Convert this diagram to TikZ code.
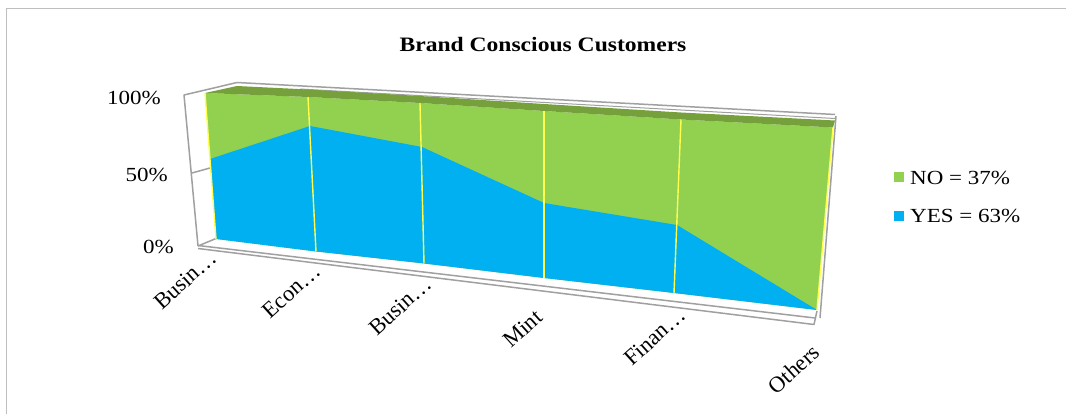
\documentclass[tikz,border=0pt]{standalone}
\usepackage{fontspec}
\setmainfont{Liberation Serif}
\definecolor{areagreen}{HTML}{92D050}
\definecolor{areablue}{HTML}{00B0F0}
\definecolor{topgreen}{HTML}{76A03C}
\definecolor{sepyellow}{HTML}{FFFF50}
\definecolor{framegray}{HTML}{A0A0A0}
\definecolor{bordergray}{HTML}{BEBEBE}
\begin{document}
\begin{tikzpicture}[x=1pt,y=-1pt,
  frameline/.style={draw=framegray, line width=1.5pt, line join=round},
  sepline/.style={draw=sepyellow, line width=1.4pt},
  txt/.style={font=\fontsize{20}{24}\selectfont, inner sep=0pt, xscale=1.15},
  cat/.style={font=\fontsize{22.5}{26}\selectfont, inner sep=0pt, rotate=42, anchor=north east},
  legsq/.style={minimum size=10pt, inner sep=0pt, draw=none}]
\useasboundingbox (0,0) rectangle (1066,414);
% outer border
\draw[draw=bordergray, line width=1.3pt] (6.7,414) -- (6.7,8.3) -- (1066,8.3);
% title
\node[txt, font=\fontsize{20.5}{24}\selectfont\bfseries] (title) at (543,45) {Brand Conscious Customers};
% back wall right edge (mostly hidden)
\draw[frameline] (836,116) -- (820,318);
% side wall and top frame
\draw[frameline] (192,173) -- (210,168);
\draw[frameline] (198,246) -- (184,95) -- (237,82.5) -- (835,114.5);
\draw[frameline, line width=1pt] (300,89) -- (835,118.5);
\draw[frameline] (198,246) -- (216,238.5);
% floor
\draw[frameline] (198,245.5) -- (815,318);
\draw[frameline] (198,248.5) -- (814,324.5) -- (817,311);
% front face: green (NO) then blue (YES)
\fill[areagreen] (205,93) -- (308,97) -- (420,103) -- (544,111) -- (681,119.5) -- (833,127.5)
  -- (817,310) -- (674,293) -- (544,278) -- (424,263.5) -- (316,251.5) -- (216,239) -- cycle;
\fill[areablue] (210,159) -- (310,126) -- (422,147) -- (544,203) -- (677,225) -- (817,310)
  -- (674,293) -- (544,278) -- (424,263.5) -- (316,251.5) -- (216,239) -- cycle;
% top face
\fill[topgreen] (205,93) -- (237,86) -- (308,89.5) -- (420,96) -- (544,104) -- (681,112.5) -- (835,120.5)
  -- (833,127.5) -- (681,119.5) -- (544,111) -- (420,103) -- (308,97) -- cycle;
% category separators
\draw[sepline] (205,93) -- (216,239);
\draw[sepline] (308,97) -- (316,251.5);
\draw[sepline] (420,103) -- (424,263.5);
\draw[sepline] (544,111) -- (544,278);
\draw[sepline] (681,119.5) -- (674,293);
\draw[sepline] (833,127.5) -- (817,310);
% value axis labels
\node[txt, anchor=east] (y100) at (161,98) {100\%};
\node[txt, anchor=east] (y50) at (168,175) {50\%};
\node[txt, anchor=east] (y0) at (174,247) {0\%};
% category labels
\node[cat] (c1) at (208,249) {Busin…};
\node[cat] (c2) at (312,262) {Econ…};
\node[cat] (c3) at (423,275) {Busin…};
\node[cat] (c4) at (534,308) {Mint};
\node[cat] (c5) at (677,306) {Finan…};
\node[cat] (c6) at (811,343) {Others};
% legend
\node[legsq, fill=areagreen] (lgno) at (899,177.5) {};
\node[legsq, fill=areablue] (lgyes) at (899,216) {};
\node[txt, anchor=west] (lno) at (910,178) {NO = 37\%};
\node[txt, anchor=west] (lyes) at (910,216) {YES = 63\%};
\end{tikzpicture}
\end{document}
